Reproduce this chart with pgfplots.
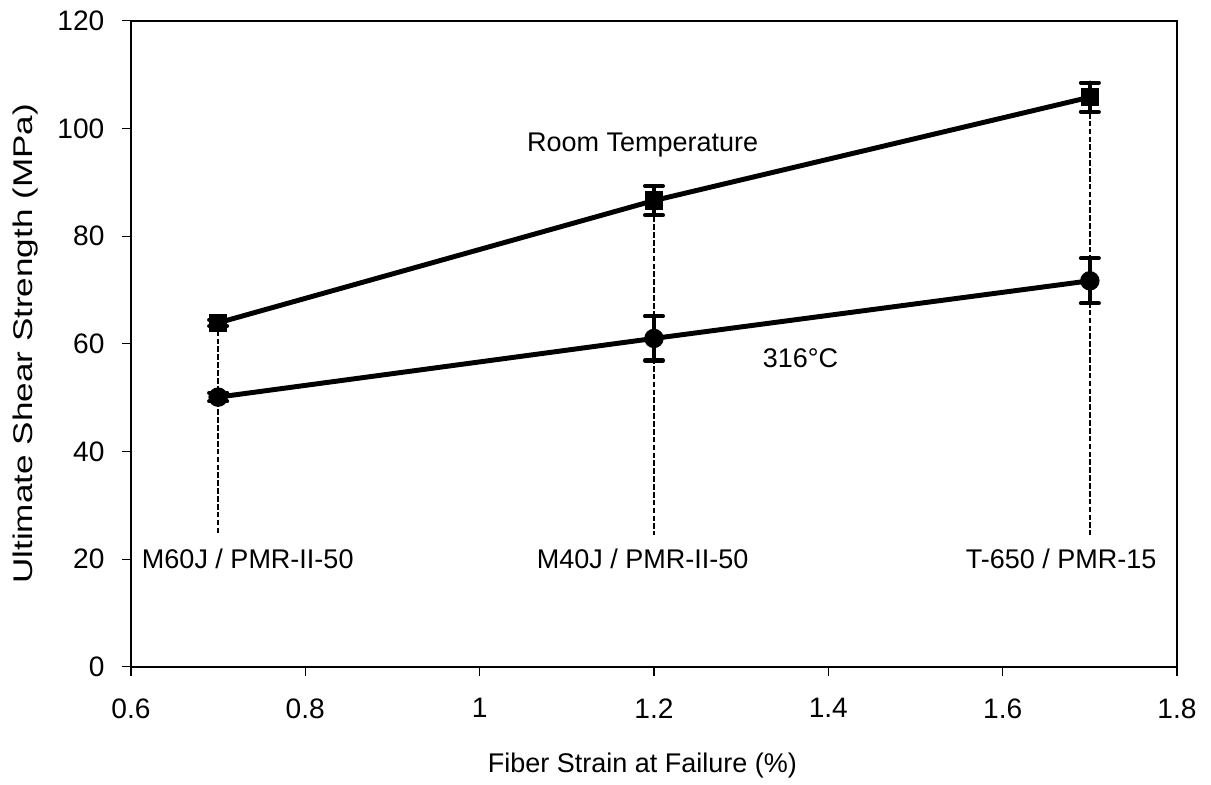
\documentclass[border=0pt]{standalone}
\usepackage{fontspec}
\setmainfont{Liberation Sans}
\usepackage{pgfplots}
\pgfplotsset{compat=1.18}
\begin{document}
\fontsize{12}{14}\selectfont
\begin{tikzpicture}
\begin{axis}[
  scale only axis, width=464.9pt, height=287.2pt,
  xmin=0.6, xmax=1.8, ymin=0, ymax=120,
  xtick={0.6,0.8,1,1.2,1.4,1.6,1.8},
  ytick={0,20,40,60,80,100,120},
  tick align=outside, major tick length=4pt,
  xtick pos=left, ytick pos=left,
  axis line style={line width=1pt},
  tick style={line width=0.5pt, black},
  /pgf/number format/assume math mode=true,
  ticklabel style={font=\fontsize{12.5}{14}\selectfont},
  xticklabel style={yshift=-5.8pt},
  yticklabel style={xshift=-3.6pt},
  xlabel={Fiber Strain at Failure (\%)},
  ylabel={\scalebox{1.3}[1]{Ultimate Shear Strength (MPa)}},
  x label style={at={(axis description cs:0.489,-0.152)}, anchor=center},
  y label style={at={(axis description cs:-0.101,0.5)}, anchor=center},
  clip=false,
]
\addplot[black, line width=0.6pt, dash pattern=on 2.5pt off 1pt, forget plot] coordinates {(0.7,63.9) (0.7,24.5)};
\addplot[black, line width=0.6pt, dash pattern=on 2.5pt off 1pt, forget plot] coordinates {(1.2,86.6) (1.2,24.5)};
\addplot[black, line width=0.6pt, dash pattern=on 2.5pt off 1pt, forget plot] coordinates {(1.7,105.8) (1.7,24.5)};

\addplot[black, line width=2.2pt, mark=square*, mark size=3pt, mark options={solid},
  error bars/.cd, y dir=both, y explicit,
  error bar style={line width=1.8pt, line cap=round},
  error mark options={rotate=90, mark size=4pt, line width=1.8pt, line cap=round}]
  coordinates {(0.7,63.9) +- (0,0.6) (1.2,86.6) +- (0,2.7) (1.7,105.8) +- (0,2.7)};

\addplot[black, line width=2.2pt, mark=*, mark size=3.2pt, mark options={solid},
  error bars/.cd, y dir=both, y explicit,
  error bar style={line width=1.8pt, line cap=round},
  error mark options={rotate=90, mark size=4pt, line width=1.8pt, line cap=round}]
  coordinates {(0.7,50.1) +- (0,0.8) (1.2,61.0) +- (0,4.1) (1.7,71.7) +- (0,4.2)};

\node at (axis cs:1.187,97) {Room Temperature};
\node at (axis cs:1.368,57.3) {316°C};
\node at (axis cs:0.734,20) {M60J / PMR-II-50};
\node at (axis cs:1.187,20) {M40J / PMR-II-50};
\node at (axis cs:1.667,20) {T-650 / PMR-15};
\end{axis}
\pgfresetboundingbox
\path[use as bounding box] ([xshift=-58.2pt,yshift=-52.4pt]current axis.south west) rectangle ([xshift=15.1pt,yshift=9.2pt]current axis.north east);
\end{tikzpicture}
\end{document}
